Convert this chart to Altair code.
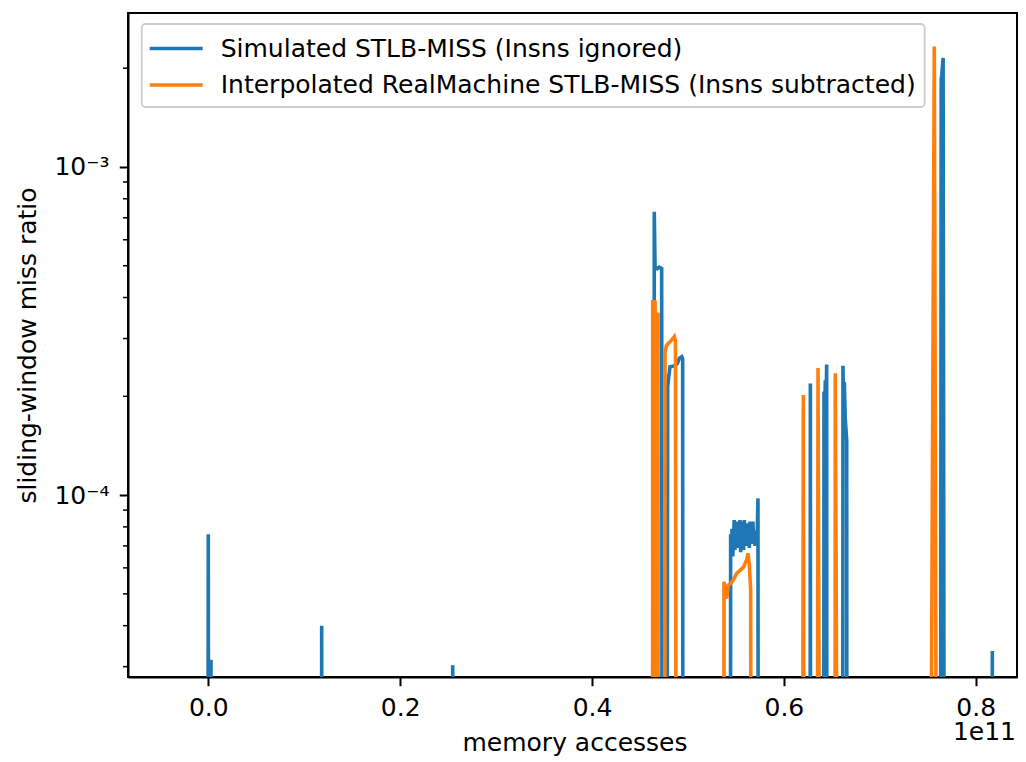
import altair as alt
import pandas as pd

# ---------------- data (x in units of 1e11 memory accesses) ----------------
FLOOR = 1e-7  # "zero" samples, below the visible log range

blue_x = [
    -0.0010, 0.0000, 0.0008, 0.0025, 0.0028, 0.0034,
    0.1176, 0.1182, 0.1188,
    0.2542, 0.2548, 0.2554,
    0.4644, 0.4649, 0.4657, 0.4680, 0.4700, 0.4726, 0.4735,
    0.4774, 0.4789, 0.4800, 0.4813, 0.4840, 0.4865, 0.4890, 0.4910, 0.4935, 0.4945, 0.4950,
    0.5440, 0.5445, 0.5452, 0.5460, 0.5467, 0.5475, 0.5482, 0.5490, 0.5497, 0.5505,
    0.5512, 0.5520, 0.5527, 0.5535, 0.5542, 0.5550, 0.5557, 0.5565, 0.5572, 0.5580,
    0.5587, 0.5595, 0.5602, 0.5610, 0.5617, 0.5625, 0.5632, 0.5640, 0.5647, 0.5655,
    0.5662, 0.5670, 0.5677, 0.5685, 0.5692, 0.5700, 0.5707, 0.5715, 0.5722, 0.5730, 0.5736,
    0.6271, 0.6276, 0.6281,
    0.6413, 0.6418, 0.6425, 0.6432, 0.6439, 0.6446, 0.6451,
    0.6611, 0.6616, 0.6621, 0.6630, 0.6640, 0.6655, 0.6660,
    0.7628, 0.7640, 0.7645, 0.7660, 0.7680,
    0.8168, 0.8173, 0.8178, 0.8200,
]
blue_y = [
    FLOOR, 7.6e-5, FLOOR, FLOOR, 3.15e-5, FLOOR,
    FLOOR, 4.0e-5, FLOOR,
    FLOOR, 3.03e-5, FLOOR,
    FLOOR, 7.3e-4, 4.96e-4, 4.90e-4, 4.95e-4, 4.90e-4, FLOOR,
    FLOOR, 2.14e-4, 2.30e-4, 2.46e-4, 2.47e-4, 2.48e-4, 2.52e-4, 2.61e-4, 2.64e-4, 2.60e-4, FLOOR,
    FLOOR, 7.6e-5, 6.6e-5, 7.9e-5, 6.5e-5, 7.2e-5, 8.4e-5, 6.8e-5, 8.2e-5, 7.0e-5,
    8.3e-5, 6.9e-5, 7.8e-5, 7.1e-5, 8.4e-5, 6.7e-5, 8.3e-5, 7.0e-5, 7.6e-5, 6.8e-5,
    8.4e-5, 7.1e-5, 7.9e-5, 7.0e-5, 8.2e-5, 7.2e-5, 7.7e-5, 6.9e-5, 8.3e-5, 7.2e-5,
    7.9e-5, 7.1e-5, 8.3e-5, 7.3e-5, 7.6e-5, 7.0e-5, 7.8e-5, 7.2e-5, 7.5e-5, 9.77e-5, FLOOR,
    FLOOR, 2.19e-4, FLOOR,
    FLOOR, 2.07e-4, 1.70e-4, 2.24e-4, 1.73e-4, 2.50e-4, FLOOR,
    FLOOR, 2.48e-4, 2.00e-4, 2.21e-4, 1.70e-4, 1.47e-4, FLOOR,
    FLOOR, 1.84e-3, 1.90e-3, 2.15e-3, FLOOR,
    FLOOR, 3.35e-5, FLOOR, FLOOR,
]

orange_x = [
    -0.0010, 0.4630,
    0.4633, 0.4636, 0.4638, 0.4641, 0.4643, 0.4646, 0.4648, 0.4651, 0.4653, 0.4656,
    0.4658, 0.4661, 0.4663, 0.4666, 0.4668, 0.4671, 0.4673, 0.4676, 0.4678, 0.4681,
    0.4683, 0.4686, 0.4688, 0.4691, 0.4694,
    0.4757, 0.4761, 0.4775, 0.4795, 0.4820, 0.4847, 0.4858, 0.4870, 0.4883,
    0.5372, 0.5376, 0.5404, 0.5421, 0.5445, 0.5473, 0.5508, 0.5543, 0.5577, 0.5612,
    0.5626, 0.5640, 0.5654, 0.5664,
    0.6186, 0.6203, 0.6220,
    0.6340, 0.6356, 0.6394,
    0.6530, 0.6536, 0.6585,
    0.7538, 0.7540, 0.7568, 0.7585, 0.7587, 0.8200,
]
orange_y = [
    FLOOR, FLOOR,
    3.93e-4, FLOOR, 3.93e-4, FLOOR, 3.93e-4, FLOOR, 3.90e-4, FLOOR, 3.93e-4, FLOOR,
    3.90e-4, FLOOR, 3.60e-4, FLOOR, 3.60e-4, FLOOR, 3.60e-4, FLOOR, 3.58e-4, FLOOR,
    3.60e-4, FLOOR, 3.58e-4, FLOOR, FLOOR,
    FLOOR, 2.71e-4, 2.85e-4, 2.90e-4, 2.95e-4, 3.01e-4, 3.04e-4, 2.95e-4, FLOOR,
    FLOOR, 5.44e-5, 4.84e-5, 5.32e-5, 5.38e-5, 5.51e-5, 5.77e-5, 5.90e-5, 6.02e-5, 6.34e-5,
    6.64e-5, 6.12e-5, 5.13e-5, FLOOR,
    FLOOR, 2.02e-4, FLOOR,
    FLOOR, 2.44e-4, FLOOR,
    FLOOR, 2.35e-4, FLOOR,
    FLOOR, 3.0e-5, 2.33e-3, 3.0e-5, FLOOR, FLOOR,
]

series_names = [
    "Simulated STLB-MISS (Insns ignored)",
    "Interpolated RealMachine STLB-MISS (Insns subtracted)",
]
series_colors = ["#1f77b4", "#ff7f0e"]

x_ticks = [0.0, 0.2, 0.4, 0.6, 0.8]
y_major = [1e-4, 1e-3]
y_minor = [3e-5, 4e-5, 5e-5, 6e-5, 7e-5, 8e-5, 9e-5,
           2e-4, 3e-4, 4e-4, 5e-4, 6e-4, 7e-4, 8e-4, 9e-4, 2e-3]
x_offset_text = "1e11"
x_title = "memory accesses"
y_title = "sliding-window miss ratio"

# ---------------- build tables ----------------
df = pd.concat([
    pd.DataFrame({"x": blue_x, "y": blue_y, "series": series_names[0],
                  "idx": range(len(blue_x))}),
    pd.DataFrame({"x": orange_x, "y": orange_y, "series": series_names[1],
                  "idx": range(len(orange_x))}),
], ignore_index=True)
minor_df = pd.DataFrame({"v": y_minor})
offset_df = pd.DataFrame({"t": [x_offset_text]})

W, H = 889, 664
FONT = "DejaVu Sans"
FS = 25
LW = 3.6
PX_PER_UNIT = 959.3
X0 = -0.0837

xscale = alt.Scale(domain=[X0, X0 + W / PX_PER_UNIT], nice=False, zero=False)
yscale = alt.Scale(type="log", domain=[2.79e-5, 2.946e-3], nice=False)

color = alt.Color(
    "series:N",
    scale=alt.Scale(domain=series_names, range=series_colors),
    legend=alt.Legend(
        title=None, orient="none", legendX=13.7, legendY=11,
        labelFontSize=FS, labelFont=FONT, labelColor="black", labelLimit=0,
        symbolType="M-2,0H2", symbolSize=702, symbolStrokeWidth=LW,
        symbolOffset=10, labelOffset=29, padding=9, rowPadding=7.5,
        fillColor="white", strokeColor="#cccccc", cornerRadius=4,
    ),
)

xaxis = alt.Axis(
    values=x_ticks, format=".1f", grid=False,
    tickSize=8.75, tickWidth=2, tickColor="black",
    domainColor="black", domainWidth=2,
    labelFontSize=FS, labelColor="black", labelPadding=9.3, labelFont=FONT,
    title=x_title, titleFontSize=FS, titleFontWeight="normal", titleColor="black",
    titleFont=FONT, titleX=446.5, titleY=73, titleBaseline="alphabetic",
)
yaxis = alt.Axis(
    values=y_major, grid=False, labelOverlap=False,
    labelExpr="datum.value < 0.0005 ? '10\u207b\u2074' : '10\u207b\u00b3'",
    tickSize=8.75, tickWidth=2, tickColor="black",
    domainColor="black", domainWidth=2,
    labelFontSize=FS, labelColor="black", labelPadding=10.3, labelFont=FONT,
    title=y_title, titleFontSize=FS, titleFontWeight="normal", titleColor="black",
    titleFont=FONT, titleX=-93, titleY=H / 2, titleBaseline="alphabetic", titleAngle=-90,
)

base = alt.Chart(df).mark_line(clip=True, strokeWidth=LW).encode(
    x=alt.X("x:Q", scale=xscale, axis=xaxis),
    y=alt.Y("y:Q", scale=yscale, axis=yaxis),
    color=color,
    order=alt.Order("idx:Q"),
)
blue_layer = base.transform_filter(alt.datum.series == series_names[0])
orange_layer = base.transform_filter(alt.datum.series == series_names[1])

minor = alt.Chart(minor_df).mark_rule(color="black", strokeWidth=1.5).encode(
    y=alt.Y("v:Q", scale=yscale, axis=yaxis),
    x=alt.value(-5), x2=alt.value(0),
)

offset_text = alt.Chart(offset_df).mark_text(
    align="right", baseline="alphabetic", fontSize=FS, font=FONT, color="black"
).encode(text="t:N", x=alt.value(888), y=alt.value(727))

chart = alt.layer(blue_layer, orange_layer, minor, offset_text).properties(
    width=W, height=H,
    autosize=alt.AutoSizeParams(type="none"),
    padding={"left": 120, "top": 5, "right": 1, "bottom": 80},
).configure(
    font=FONT
).configure_view(
    stroke="black", strokeWidth=2
).configure_legend(
    strokeWidth=1.8
)

chart.save("out.html", embed_options={"renderer": "svg", "actions": False})
